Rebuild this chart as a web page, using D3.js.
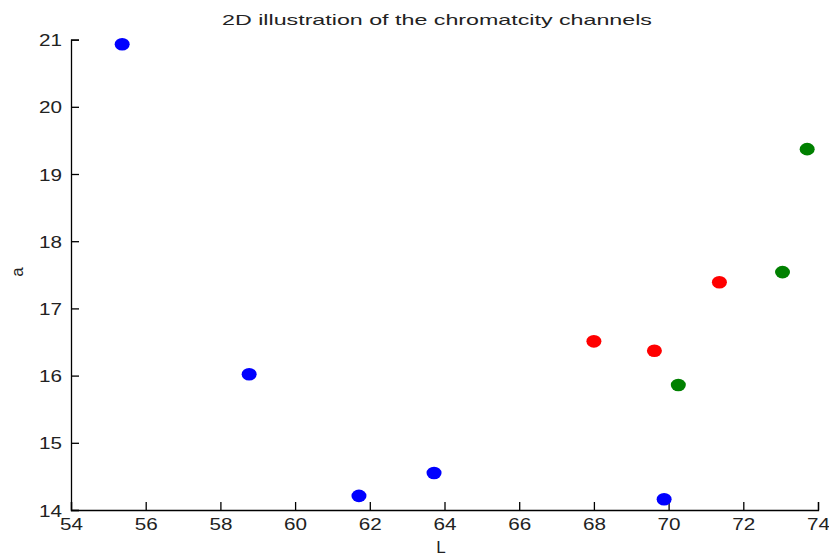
<!DOCTYPE html>
<html><head><meta charset="utf-8">
<script src="https://cdn.jsdelivr.net/npm/d3@7"></script>
<style>body{margin:0;background:#fff}svg{display:block}text{font-family:"Liberation Sans",Arial,sans-serif}</style>
</head><body>
<svg id="c" width="829" height="558"></svg>
<script>
const blueL = [55.37, 58.77, 61.71, 63.72, 69.88];
const blueA = [20.93, 16.02, 14.21, 14.55, 14.16];
const redL = [68.0, 69.62, 71.36];
const redA = [16.51, 16.37, 17.39];
const greenL = [70.26, 73.05, 73.71];
const greenA = [15.86, 17.54, 19.37];
const xTicks = [54,56,58,60,62,64,66,68,70,72,74];
const yTicks = [14,15,16,17,18,19,20,21];
const title = "2D illustration of the chromatcity channels";

const svg = d3.select("#c");
const x = d3.scaleLinear().domain([54,74]).range([71,818]);
const y = d3.scaleLinear().domain([14,21]).range([510,39.6]);

const xAxis = d3.axisBottom(x).tickValues(xTicks).tickSize(-8).tickPadding(5).tickFormat(d3.format("d"));
const yAxis = d3.axisLeft(y).tickValues(yTicks).tickSize(-8).tickPadding(9).tickFormat(d3.format("d"));

const gx = svg.append("g").attr("transform","translate(0,510)").call(xAxis);
const gy = svg.append("g").attr("transform","translate(71,0)").call(yAxis);
[gx,gy].forEach(g=>{
  g.select(".domain").attr("stroke","#000").attr("stroke-width",1.3);
  g.selectAll(".tick line").attr("stroke","#000").attr("stroke-width",1.3);
  g.selectAll(".tick text").attr("fill","#222").style("font-size","17px")
   .attr("textLength",d=>String(d).length*11.5).attr("lengthAdjust","spacingAndGlyphs");
});
gx.selectAll(".tick text").attr("dy","0.88em");
gy.selectAll(".tick text").attr("dy","0.36em").attr("x",-9);

svg.append("text").attr("x",437).attr("y",25).attr("text-anchor","middle").attr("fill","#222")
  .style("font-size","15px").attr("textLength",430).attr("lengthAdjust","spacingAndGlyphs").text(title);
svg.append("text").attr("x",441).attr("y",553).attr("text-anchor","middle").attr("fill","#222").style("font-size","17px").text("L");
svg.append("text").attr("transform","translate(23,272) rotate(-90)").attr("text-anchor","middle").attr("fill","#222").style("font-size","17px").text("a");

function pts(L,A,color){
  svg.append("g").selectAll("ellipse").data(L.map((l,i)=>[l,A[i]])).join("ellipse")
    .attr("cx",d=>x(d[0])).attr("cy",d=>y(d[1])).attr("rx",7.5).attr("ry",6.3).attr("fill",color);
}
pts(blueL,blueA,"#0000ff");
pts(redL,redA,"#ff0000");
pts(greenL,greenA,"#008000");
</script>
</body></html>
